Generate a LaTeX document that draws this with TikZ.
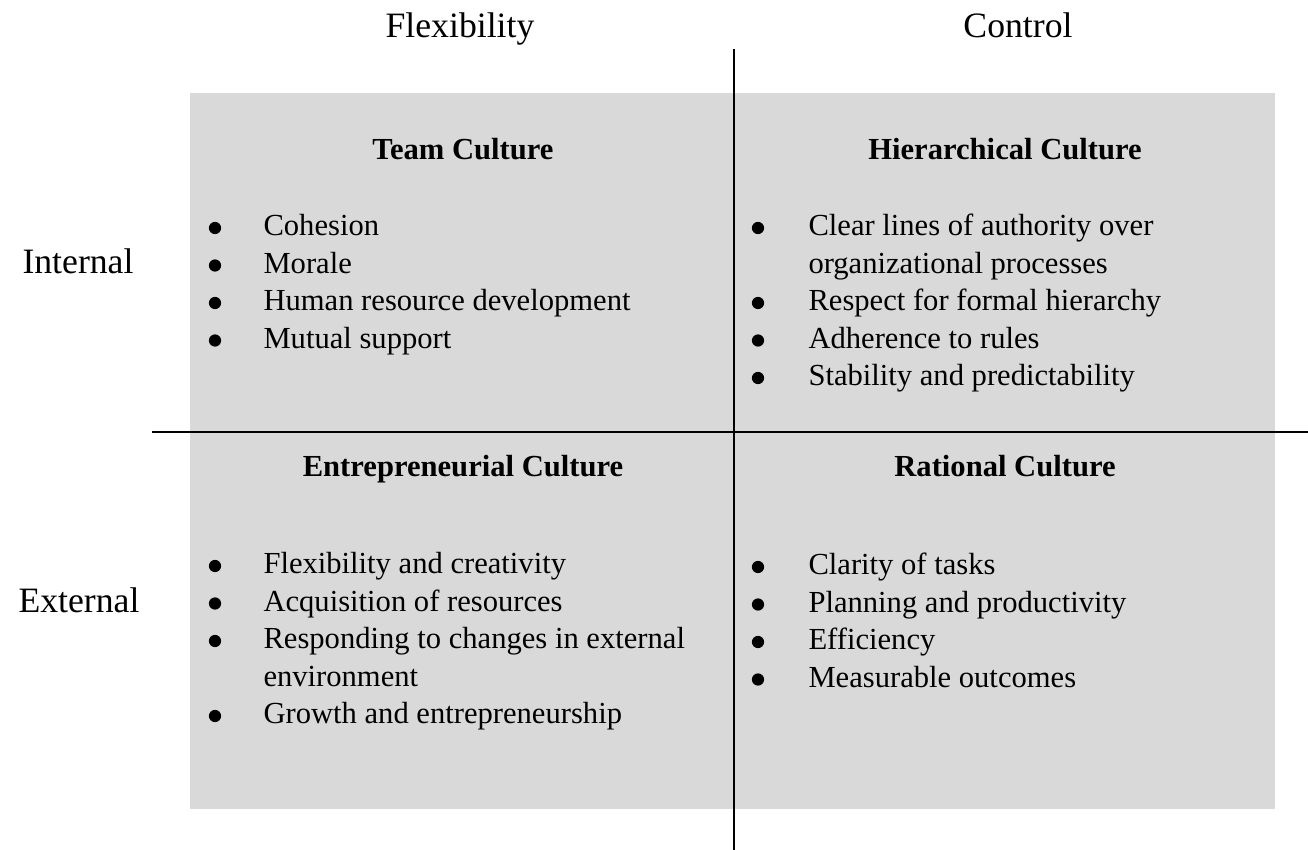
\documentclass[tikz,border=0pt]{standalone}
\usepackage{fontspec}
\setmainfont{Liberation Serif}
\definecolor{quadgray}{HTML}{D9D9D9}
\tikzset{
  axislabel/.style={font=\fontsize{14pt}{17pt}\selectfont, inner sep=0pt, anchor=base},
  quadtitle/.style={font=\fontsize{12pt}{14.7pt}\selectfont\bfseries, inner sep=0pt, anchor=base},
  itemtext/.style={font=\fontsize{12pt}{14.7pt}\selectfont, inner sep=0pt, anchor=base west},
  itembullet/.style={circle, fill=black, inner sep=0pt, minimum size=4.8pt},
  axisline/.style={line width=0.95pt, black}
}
\begin{document}
\begin{tikzpicture}[x=0.3922pt, y=-0.3922pt]
\useasboundingbox (0,0) rectangle (1308,850);
% quadrant background
\fill[quadgray] (190,93) rectangle (1275,809);
% axes
\coordinate (vtop) at (734,49);
\coordinate (vbot) at (734,850);
\coordinate (hleft) at (152,432);
\coordinate (hright) at (1308,432);
\draw[axisline] (vtop) -- (vbot);
\draw[axisline] (hleft) -- (hright);
% axis labels
\node[axislabel] (flex) at (460,38) {Flexibility};
\node[axislabel] (ctrl) at (1018,38) {Control};
\node[axislabel] (intl) at (78,274) {Internal};
\node[axislabel] (extl) at (79,613) {External};
% quadrant titles
\node[quadtitle] (team) at (463,160) {Team Culture};
\node[quadtitle] (hier) at (1005,160) {Hierarchical Culture};
\node[quadtitle] (entr) at (463,477) {Entrepreneurial Culture};
\node[quadtitle] (rat) at (1005,477) {Rational Culture};
% bullet lists
\foreach \ln/\bl/\txt in {0/1/Cohesion, 1/1/Morale, 2/1/Human resource development, 3/1/Mutual support} {
  \pgfmathsetmacro{\y}{236+\ln*37.5}
  \ifnum\bl=1 \node[itembullet] (tl-b\ln) at (215,\y-8) {}; \fi
  \node[itemtext] (tl-\ln) at (263,\y) {\txt};
}
\foreach \ln/\bl/\txt in {0/1/Clear lines of authority over, 1/0/organizational processes, 2/1/Respect for formal hierarchy, 3/1/Adherence to rules, 4/1/Stability and predictability} {
  \pgfmathsetmacro{\y}{236+\ln*37.5}
  \ifnum\bl=1 \node[itembullet] (tr-b\ln) at (758,\y-8) {}; \fi
  \node[itemtext] (tr-\ln) at (808,\y) {\txt};
}
\foreach \ln/\bl/\txt in {0/1/Flexibility and creativity, 1/1/Acquisition of resources, 2/1/Responding to changes in external, 3/0/environment, 4/1/Growth and entrepreneurship} {
  \pgfmathsetmacro{\y}{574+\ln*37.5}
  \ifnum\bl=1 \node[itembullet] (bl-b\ln) at (215,\y-8) {}; \fi
  \node[itemtext] (bl-\ln) at (263,\y) {\txt};
}
\foreach \ln/\bl/\txt in {0/1/Clarity of tasks, 1/1/Planning and productivity, 2/1/Efficiency, 3/1/Measurable outcomes} {
  \pgfmathsetmacro{\y}{575+\ln*37.5}
  \ifnum\bl=1 \node[itembullet] (br-b\ln) at (758,\y-8) {}; \fi
  \node[itemtext] (br-\ln) at (808,\y) {\txt};
}
\end{tikzpicture}
\end{document}
